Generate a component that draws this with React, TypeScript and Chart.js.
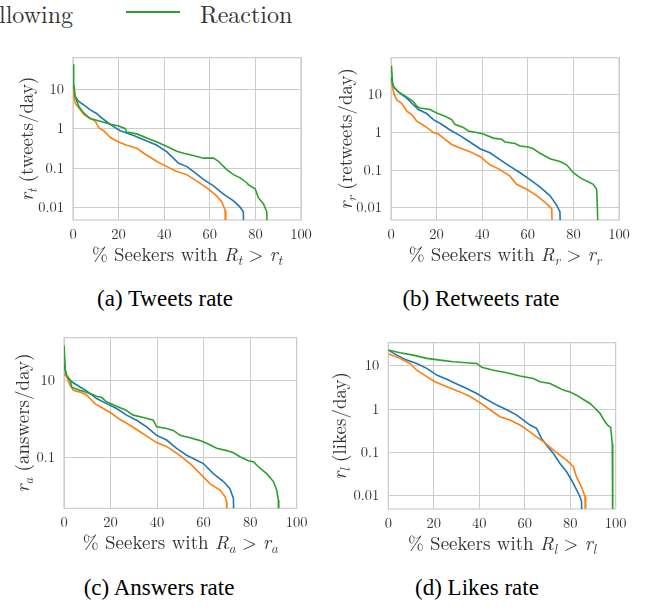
import React, { useEffect, useRef, useState } from 'react';
import { Chart, registerables } from 'chart.js';

Chart.register(...registerables);

const FONT_CM = '"Latin Modern Roman", "Liberation Serif", serif';
const TIMES_CANDIDATES = ['Liberation Serif', 'Tinos', 'Times New Roman', 'FreeSerif', 'Times', 'TeX Gyre Termes', 'Nimbus Roman No9 L'];
const C_BLUE = '#1f77b4';
const C_ORANGE = '#ff7f0e';
const C_GREEN = '#2ca02c';
const GRID = '#cccccc';
const TEXT = '#333333';

// ---- ticks ----
const X_TICKS = [0, 20, 40, 60, 80, 100];
const Y_TICKS_FULL = [0.01, 0.1, 1, 10];
const Y_LABELS_FULL = ['0.01', '0.1', '1', '10'];
const Y_TICKS_ANS = [0.1, 10];
const Y_LABELS_ANS = ['0.1', '10'];

// ---- legend / captions ----
const SERIES_LABELS = ['Seeking', 'Following', 'Reaction'];
const CAPTIONS = ['(a) Tweets rate', '(b) Retweets rate', '(c) Answers rate', '(d) Likes rate'];

// ---- (a) tweets ----
const tweetsBlueX = [0, 0.5, 1, 2.5, 4.7, 7.6, 10.5, 12, 14.9, 18.5, 20.7, 26.6, 32.4, 36.8, 41.2, 44, 46.3, 50, 53.6, 57.2, 61.6, 66, 70.4, 73.3, 74.7, 75];
const tweetsBlueY = [15, 8, 6.5, 4.9, 4, 3, 2.4, 2, 1.48, 1.07, 0.89, 0.67, 0.49, 0.38, 0.26, 0.18, 0.134, 0.11, 0.076, 0.052, 0.036, 0.022, 0.015, 0.0104, 0.0079, 0.001];
const tweetsOrangeX = [0, 0.5, 1, 3.2, 4.7, 6.9, 9.8, 11.2, 13.4, 16.4, 20, 23.6, 28, 31, 33.9, 36.8, 41.2, 45.5, 49.9, 54.3, 58.7, 63, 65.3, 66.7, 67];
const tweetsOrangeY = [10.4, 6, 4.4, 3, 2.3, 1.9, 1.56, 1.07, 0.89, 0.6, 0.46, 0.38, 0.32, 0.24, 0.19, 0.148, 0.11, 0.083, 0.069, 0.047, 0.032, 0.02, 0.014, 0.0087, 0.001];
const tweetsGreenX = [0, 0.3, 1, 2.5, 4, 5.4, 7.6, 12, 16.4, 20, 23, 23.4, 28, 32.4, 36.8, 41, 45.5, 48.5, 52.8, 57.2, 61.6, 63.8, 67.4, 70.4, 73.3, 76.2, 77, 79.9, 81.3, 83.5, 85, 85.3];
const tweetsGreenY = [43, 14, 6.5, 3.7, 2.8, 2.3, 1.8, 1.55, 1.3, 1.17, 1.0, 0.83, 0.74, 0.58, 0.46, 0.36, 0.27, 0.24, 0.21, 0.18, 0.18, 0.15, 0.092, 0.069, 0.057, 0.043, 0.038, 0.03, 0.018, 0.0126, 0.0079, 0.001];

// ---- (b) retweets ----
const retweetsBlueX = [0.2, 0.4, 1.3, 4, 6.9, 9.8, 12, 15.6, 18.6, 22.2, 25.9, 30.3, 34.6, 39, 43.4, 47.8, 52.2, 56.6, 61, 65.4, 69.7, 72.7, 74.1, 74.4];
const retweetsBlueY = [30, 22, 16, 11, 8.2, 5.5, 4.1, 3.2, 2.2, 1.66, 1.17, 0.83, 0.56, 0.37, 0.29, 0.19, 0.126, 0.085, 0.056, 0.035, 0.021, 0.0115, 0.0078, 0.001];
const retweetsOrangeX = [0.2, 0.3, 1.3, 2.5, 4.7, 6.9, 9.1, 11.3, 13.5, 15.6, 18.6, 20.8, 23.7, 26.6, 30.3, 34.6, 39, 43.4, 47.8, 52.2, 55.1, 59.5, 63.9, 67.5, 70.5, 70.9];
const retweetsOrangeY = [22, 20, 11, 7.4, 6, 3.7, 3, 2, 1.66, 1.37, 1.0, 0.91, 0.66, 0.48, 0.39, 0.31, 0.23, 0.138, 0.103, 0.069, 0.042, 0.031, 0.021, 0.014, 0.0093, 0.001];
const retweetsGreenX = [0.2, 0.7, 1.3, 3.2, 5.4, 7.6, 9.8, 11.3, 12.7, 17.1, 20, 23.7, 26.6, 28, 31.7, 33.9, 37.6, 40.5, 44.9, 48.5, 50, 54.4, 56.6, 60.2, 62.4, 65.4, 69.7, 74.1, 77, 80, 82.9, 85.8, 88.7, 90.2, 90.5, 91];
const retweetsGreenY = [60, 20, 16, 12, 10, 8.2, 6.7, 5, 4.5, 4.1, 3.3, 2.7, 2.2, 1.66, 1.37, 1.1, 1.0, 0.91, 0.71, 0.66, 0.56, 0.51, 0.44, 0.41, 0.37, 0.28, 0.2, 0.17, 0.138, 0.085, 0.063, 0.051, 0.042, 0.031, 0.0104, 0.001];

// ---- (c) answers ----
const answersBlueX = [0, 0.9, 3.3, 6.9, 9.7, 14, 18.3, 22.6, 26.9, 31.2, 35.5, 39.8, 44.1, 48.4, 52.7, 57, 59.9, 64.2, 68.5, 71.3, 72.8, 73.1];
const answersBlueY = [28, 13.8, 9.3, 6.8, 5.4, 3.4, 2.5, 1.86, 1.25, 0.92, 0.62, 0.37, 0.28, 0.17, 0.112, 0.083, 0.068, 0.037, 0.023, 0.015, 0.0083, 0.001];
const answersOrangeX = [0, 1.1, 2.6, 4, 6.9, 9.7, 13.3, 16.9, 20.5, 24.1, 28.4, 32.7, 37, 39.8, 44.1, 48.4, 50.6, 54.9, 58.5, 62.8, 67, 69.2, 69.9, 70];
const answersOrangeY = [15, 12.6, 7.6, 5.6, 5, 4.2, 2.5, 1.86, 1.38, 0.96, 0.68, 0.46, 0.31, 0.24, 0.19, 0.126, 0.102, 0.062, 0.037, 0.02, 0.0138, 0.0093, 0.0068, 0.001];
const answersGreenX = [0, 0.6, 1.1, 2.6, 3.3, 4.7, 6.9, 11.2, 14, 16.2, 18.3, 22.6, 26.2, 29.8, 34.1, 38.4, 39.8, 44.1, 47, 49.9, 54.2, 58.5, 61.3, 65.6, 69.9, 72.8, 75.6, 79.2, 81.4, 83.5, 87.1, 90, 91.4, 92.1, 92.3];
const answersGreenY = [84, 18.6, 13.8, 10.2, 6.8, 6.2, 5.6, 4.6, 3.9, 3.6, 2.8, 2.14, 1.74, 1.25, 1.08, 0.92, 0.62, 0.56, 0.5, 0.37, 0.32, 0.27, 0.23, 0.17, 0.148, 0.13, 0.102, 0.08, 0.076, 0.056, 0.037, 0.023, 0.0138, 0.0076, 0.001];

// ---- (d) likes ----
const likesBlueX = [0, 3.7, 8.1, 12.5, 16.9, 21.3, 25.7, 30.1, 34.5, 38.9, 43.3, 47.7, 52.1, 56.5, 59.4, 62.3, 65.2, 67.4, 69.6, 72.6, 75.5, 78.4, 80.6, 82.8, 84.3, 85, 85.2];
const likesBlueY = [23, 17.6, 13.5, 11.3, 8.7, 6.1, 4.9, 3.8, 3, 2.3, 1.67, 1.24, 0.97, 0.73, 0.56, 0.43, 0.36, 0.21, 0.148, 0.095, 0.056, 0.036, 0.023, 0.0138, 0.0096, 0.0074, 0.001];
const likesOrangeX = [0, 5.1, 9.5, 12.5, 16.9, 20.5, 25.7, 31.5, 35.9, 40.3, 44.7, 49.1, 53.5, 57.9, 62.3, 65.2, 68.2, 72.6, 75.5, 78.4, 81.4, 82.8, 85, 86.5, 86.8];
const likesOrangeY = [19, 14.8, 11.3, 7.9, 5.6, 4.3, 3.3, 2.5, 1.95, 1.42, 0.97, 0.67, 0.56, 0.43, 0.3, 0.23, 0.18, 0.114, 0.087, 0.067, 0.047, 0.027, 0.016, 0.0096, 0.001];
const likesGreenX = [0, 5.1, 11, 16.9, 22.7, 28.6, 34.5, 38.9, 41.1, 46.2, 52.1, 57.9, 63.8, 66.7, 71.1, 74, 77, 79.9, 82.8, 85.8, 88.7, 90.9, 93.1, 95.3, 96.8, 97.8, 98.5, 98.7];
const likesGreenY = [23, 20, 17.6, 14.8, 13.5, 12.4, 11.7, 11.3, 9.2, 7.9, 6.9, 5.8, 5.1, 4.3, 3.9, 3.3, 2.75, 2.5, 2.1, 1.67, 1.35, 1.05, 0.8, 0.51, 0.41, 0.38, 0.16, 0.001];

type Seg = { t: string; it?: boolean; sub?: boolean };

const xTitle = (s: string): Seg[] => [
  { t: '% Seekers with ' },
  { t: 'R', it: true },
  { t: s, it: true, sub: true },
  { t: ' > ' },
  { t: 'r', it: true },
  { t: s, it: true, sub: true },
];
const yTitle = (s: string, unit: string): Seg[] => [
  { t: 'r', it: true },
  { t: s, it: true, sub: true },
  { t: ' (' + unit + ')' },
];

function segFont(s: Seg, size: number) {
  return `${s.it ? 'italic ' : ''}${s.sub ? size * 0.7 : size}px ${FONT_CM}`;
}
function drawSegs(ctx: CanvasRenderingContext2D, segs: Seg[], cx: number, by: number, size: number) {
  const widths = segs.map((s) => {
    ctx.font = segFont(s, size);
    return ctx.measureText(s.t).width;
  });
  let x = cx - widths.reduce((a, b) => a + b, 0) / 2;
  segs.forEach((s, i) => {
    ctx.font = segFont(s, size);
    ctx.fillText(s.t, x, by + (s.sub ? size * 0.22 : 0));
    x += widths[i];
  });
}

type Series = { label: string; color: string; xs: number[]; ys: number[]; order: number };
type PanelCfg = {
  left: number; top: number; width: number; height: number;
  padTop: number; padRight: number; yAxisW: number; xAxisH: number;
  yMin: number; yMax: number; yTicks: number[]; yLabels: string[];
  series: Series[]; xTitle: Seg[]; yTitle: Seg[]; yTitleX: number; xTitleDy: number;
};

const mk = (bx: number[], by: number[], ox: number[], oy: number[], gx: number[], gy: number[]): Series[] => [
  { label: SERIES_LABELS[0], color: C_BLUE, xs: bx, ys: by, order: 3 },
  { label: SERIES_LABELS[1], color: C_ORANGE, xs: ox, ys: oy, order: 2 },
  { label: SERIES_LABELS[2], color: C_GREEN, xs: gx, ys: gy, order: 1 },
];

const PANELS: PanelCfg[] = [
  {
    left: 0, top: 40, width: 320, height: 240, padTop: 13.3, padRight: 19, yAxisW: 73, xAxisH: 60,
    yMin: 0.0049, yMax: 62.7, yTicks: Y_TICKS_FULL, yLabels: Y_LABELS_FULL,
    series: mk(tweetsBlueX, tweetsBlueY, tweetsOrangeX, tweetsOrangeY, tweetsGreenX, tweetsGreenY),
    xTitle: xTitle('t'), yTitle: yTitle('t', 'tweets/day'), yTitleX: 33, xTitleDy: 41,
  },
  {
    left: 320, top: 40, width: 327, height: 240, padTop: 13.3, padRight: 28, yAxisW: 71, xAxisH: 60,
    yMin: 0.0047, yMax: 98, yTicks: Y_TICKS_FULL, yLabels: Y_LABELS_FULL,
    series: mk(retweetsBlueX, retweetsBlueY, retweetsOrangeX, retweetsOrangeY, retweetsGreenX, retweetsGreenY),
    xTitle: xTitle('r'), yTitle: yTitle('r', 'retweets/day'), yTitleX: 32, xTitleDy: 41,
  },
  {
    left: 0, top: 320, width: 320, height: 240, padTop: 17.3, padRight: 23.3, yAxisW: 64, xAxisH: 51.7,
    yMin: 0.0046, yMax: 132, yTicks: Y_TICKS_ANS, yLabels: Y_LABELS_ANS,
    series: mk(answersBlueX, answersBlueY, answersOrangeX, answersOrangeY, answersGreenX, answersGreenY),
    xTitle: xTitle('a'), yTitle: yTitle('a', 'answers/day'), yTitleX: 29, xTitleDy: 41,
  },
  {
    left: 320, top: 320, width: 327, height: 240, padTop: 22.7, padRight: 31.3, yAxisW: 68.3, xAxisH: 51,
    yMin: 0.005, yMax: 34, yTicks: Y_TICKS_FULL, yLabels: Y_LABELS_FULL,
    series: mk(likesBlueX, likesBlueY, likesOrangeX, likesOrangeY, likesGreenX, likesGreenY),
    xTitle: xTitle('l'), yTitle: yTitle('l', 'likes/day'), yTitleX: 26, xTitleDy: 41,
  },
];

function loadFonts(): Promise<unknown> {
  const fs: any = (document as any).fonts;
  if (!fs || !fs.load) return Promise.resolve();
  return Promise.all([
    fs.load(`14.5px ${FONT_CM}`),
    fs.load(`19px ${FONT_CM}`),
    fs.load(`italic 19px ${FONT_CM}`),
    ...TIMES_CANDIDATES.map((f) => fs.load(`23px "${f}"`)),
  ]).catch(() => {});
}

// Pick a Times-like family that really resolves (width of a caption close to Times metrics);
// otherwise fall back to Latin Modern (always available here).
function pickCaptionFont(): { family: string; size: number } {
  const c = document.createElement('canvas');
  const ctx = c.getContext('2d');
  if (!ctx) return { family: FONT_CM, size: 21.5 };
  const sample = CAPTIONS[0];
  for (const f of TIMES_CANDIDATES) {
    ctx.font = `23px "${f}", monospace`;
    const w = ctx.measureText(sample).width;
    if (Math.abs(w - 138) < 6) return { family: `"${f}"`, size: 23 };
  }
  return { family: FONT_CM, size: 21.5 };
}

function Panel({ p }: { p: PanelCfg }) {
  const ref = useRef<HTMLCanvasElement | null>(null);
  useEffect(() => {
    if (!ref.current) return;
    const tickFont = { family: FONT_CM, size: 14.5 };
    const chart = new Chart(ref.current, {
      type: 'line',
      data: {
        datasets: p.series.map((s) => ({
          label: s.label,
          data: s.xs.map((x, i) => ({ x, y: s.ys[i] })),
          borderColor: s.color,
          backgroundColor: s.color,
          borderWidth: 1.6,
          pointRadius: 0,
          tension: 0,
          fill: false,
          order: s.order,
        })),
      },
      options: {
        responsive: false,
        animation: false,
        events: [],
        layout: { padding: { left: 0, top: p.padTop, right: p.padRight, bottom: 0 } },
        plugins: { legend: { display: false }, tooltip: { enabled: false }, title: { display: false } },
        scales: {
          x: {
            type: 'linear',
            min: 0,
            max: 100,
            bounds: 'data',
            afterBuildTicks: (s: any) => { s.ticks = X_TICKS.map((v) => ({ value: v })); },
            afterFit: (s: any) => { s.height = p.xAxisH; },
            grid: { color: GRID, lineWidth: 1, drawTicks: false },
            border: { display: false },
            ticks: {
              color: TEXT, font: tickFont, padding: 6, maxRotation: 0, minRotation: 0, autoSkip: false,
              callback: (_v: any, i: number) => String(X_TICKS[i]),
            },
          },
          y: {
            type: 'logarithmic',
            min: p.yMin,
            max: p.yMax,
            bounds: 'data',
            afterBuildTicks: (s: any) => { s.ticks = p.yTicks.map((v) => ({ value: v })); },
            afterFit: (s: any) => { s.width = p.yAxisW; },
            grid: { color: GRID, lineWidth: 1, drawTicks: false },
            border: { display: false },
            ticks: {
              color: TEXT, font: tickFont, padding: 9, autoSkip: false,
              callback: (_v: any, i: number) => p.yLabels[i],
            },
          },
        },
      } as any,
      plugins: [
        {
          id: 'frameAndTitles',
          beforeDatasetsDraw(c: any) {
            const { ctx, chartArea: a } = c;
            ctx.save();
            ctx.strokeStyle = GRID;
            ctx.lineWidth = 1.2;
            ctx.strokeRect(a.left, a.top, a.right - a.left, a.bottom - a.top);
            ctx.restore();
          },
          afterDraw(c: any) {
            const { ctx, chartArea: a } = c;
            ctx.save();
            ctx.fillStyle = TEXT;
            ctx.textAlign = 'left';
            ctx.textBaseline = 'alphabetic';
            drawSegs(ctx, p.xTitle, (a.left + a.right) / 2, a.bottom + p.xTitleDy, 19);
            ctx.translate(p.yTitleX, (a.top + a.bottom) / 2);
            ctx.rotate(-Math.PI / 2);
            drawSegs(ctx, p.yTitle, 0, 0, 19);
            ctx.restore();
          },
        },
      ],
    });
    let alive = true;
    loadFonts().then(() => { if (alive) chart.update(); });
    return () => {
      alive = false;
      chart.destroy();
    };
  }, [p]);
  return (
    <canvas
      ref={ref}
      width={p.width}
      height={p.height}
      style={{ position: 'absolute', left: p.left, top: p.top, width: p.width, height: p.height }}
    />
  );
}

const CAPTION_POS = [
  { cx: 165, top: 287 },
  { cx: 481, top: 287 },
  { cx: 159, top: 576 },
  { cx: 477, top: 576 },
];

const legendText: React.CSSProperties = {
  position: 'absolute', top: 0, fontFamily: FONT_CM, fontSize: 24, lineHeight: '26px', color: TEXT, whiteSpace: 'nowrap',
};

export default function App() {
  const [capFont, setCapFont] = useState<{ family: string; size: number }>(() => pickCaptionFont());
  useEffect(() => {
    let alive = true;
    loadFonts().then(() => { if (alive) setCapFont(pickCaptionFont()); });
    return () => { alive = false; };
  }, []);
  return (
    <div style={{ position: 'absolute', left: 0, top: 0, width: 647, height: 610, background: '#fff', overflow: 'hidden' }}>
      {/* legend (cut at the left edge, as in the original figure) */}
      <div style={{ position: 'absolute', left: -150, top: 11, width: 54, height: 1.5, background: C_ORANGE }} />
      <span style={{ ...legendText, right: 574 }}>{SERIES_LABELS[1]}</span>
      <div style={{ position: 'absolute', left: 126, top: 11, width: 54, height: 1.5, background: C_GREEN }} />
      <span style={{ ...legendText, left: 200 }}>{SERIES_LABELS[2]}</span>
      {PANELS.map((p, i) => (
        <Panel key={i} p={p} />
      ))}
      {CAPTIONS.map((c, i) => (
        <div
          key={c}
          style={{
            position: 'absolute', left: CAPTION_POS[i].cx - 150, top: CAPTION_POS[i].top, width: 300,
            textAlign: 'center', fontFamily: capFont.family, fontSize: capFont.size, lineHeight: '23px',
            color: '#000', whiteSpace: 'nowrap',
          }}
        >
          {c}
        </div>
      ))}
    </div>
  );
}
